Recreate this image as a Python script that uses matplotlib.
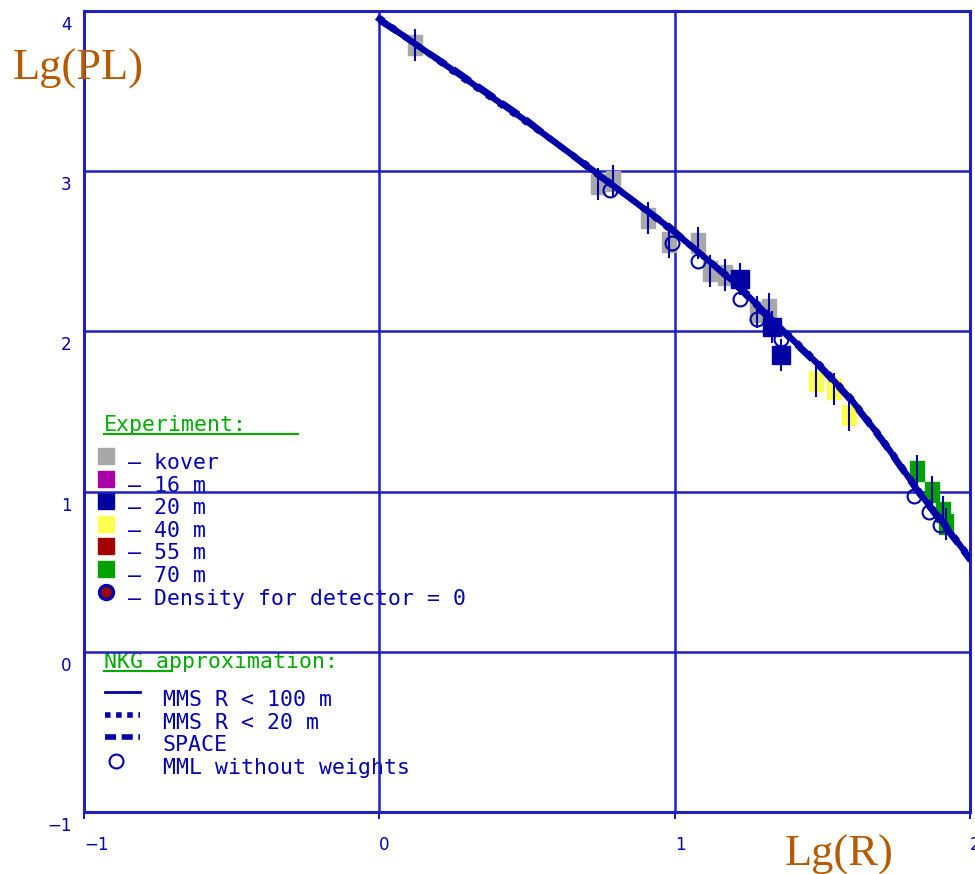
import numpy as np
import matplotlib.pyplot as plt
from matplotlib.lines import Line2D
from matplotlib.transforms import ScaledTranslation

# NKG fits, Lg(PL) vs Lg(R)
mms100_x = [0.0, 0.25, 0.5, 0.72, 0.98, 1.2, 1.37, 1.5, 1.6, 1.7, 1.83, 1.96, 2.0]
mms100_y = [3.95, 3.63, 3.31, 3.01, 2.65, 2.31, 2.0, 1.77, 1.57, 1.33, 0.99, 0.68, 0.58]
mms20_y = [3.96, 3.62, 3.30, 3.02, 2.64, 2.32, 2.01, 1.78, 1.58, 1.34, 1.00, 0.69, 0.59]
space_y = [3.94, 3.64, 3.32, 3.00, 2.66, 2.30, 1.99, 1.76, 1.56, 1.32, 0.98, 0.67, 0.57]

# experiment, grouped by detector
kover_x = [0.12, 0.74, 0.79, 0.91, 0.98, 1.08, 1.12, 1.17, 1.28, 1.32]
kover_y = [3.79, 2.92, 2.94, 2.71, 2.56, 2.55, 2.38, 2.35, 2.12, 2.14]
m20_x = [1.22, 1.33, 1.36]
m20_y = [2.33, 2.03, 1.85]
m40_x = [1.48, 1.54, 1.59]
m40_y = [1.69, 1.64, 1.48]
m70_x = [1.82, 1.87, 1.91, 1.92]
m70_y = [1.13, 1.00, 0.87, 0.80]
exp_err = 0.1

# MML without weights
mml_x = [0.78, 0.99, 1.08, 1.22, 1.28, 1.36, 1.81, 1.86, 1.90]
mml_y = [2.88, 2.55, 2.44, 2.20, 2.08, 1.95, 0.97, 0.87, 0.79]

x_ticks = [-1, 0, 1, 2]
y_ticks = [-1, 0, 1, 2, 3, 4]

NAVY = '#0000a8'
GRID = '#2020c0'
TXT = '#0000b0'
ORANGE = '#b45a00'
GREEN = '#00aa00'
colors = {'kover': '#a8a8a8', '16 m': '#aa00aa', '20 m': '#0000a0',
          '40 m': '#ffff50', '55 m': '#a00000', '70 m': '#00a000'}

W, H = 975, 874
fig = plt.figure(figsize=(W / 100, H / 100), dpi=100)
ax = fig.add_axes([84 / W, 62 / H, 886 / W, 801 / H])
ax.set_xlim(-1, 2)
ax.set_ylim(-1, 4)


def fpos(px, py):
    return px / W, 1 - py / H


# tall rectangle marker for the experimental points
rect = [(-0.35, -0.5), (0.35, -0.5), (0.35, 0.5), (-0.35, 0.5), (-0.35, -0.5)]
for xs, ys, key in [(kover_x, kover_y, 'kover'), (m20_x, m20_y, '20 m'),
                    (m40_x, m40_y, '40 m'), (m70_x, m70_y, '70 m')]:
    if key == '20 m':
        ax.plot(xs, ys, ls='none', marker='s', ms=13, color=colors[key],
                zorder=3)
    else:
        ax.plot(xs, ys, ls='none', marker=rect, ms=15, color=colors[key],
                mec=colors[key], zorder=3)
    ax.errorbar(xs, ys, yerr=exp_err, fmt='none', ecolor=NAVY, elinewidth=1.5,
                capsize=0, zorder=4)

ax.plot(mml_x, mml_y, ls='none', marker='o', ms=10, mfc='none', mec=NAVY,
        mew=1.5, zorder=4)

ax.plot(mms100_x, mms100_y, '-', color=NAVY, lw=4.5, zorder=5)
ax.plot(mms100_x, mms20_y, ':', color=NAVY, lw=4, zorder=5)
ax.plot(mms100_x, space_y, '--', color=NAVY, lw=4, zorder=5)

# grid and frame
ax.set_axisbelow(False)
ax.grid(True, color=GRID, lw=1.8)
for sp in ax.spines.values():
    sp.set_color(GRID)
    sp.set_linewidth(2.2)

ax.set_xticks(x_ticks)
ax.set_yticks(y_ticks)
ax.set_xticklabels([str(v).replace('-', '\u2212') for v in x_ticks])
ax.set_yticklabels([str(v).replace('-', '\u2212') for v in y_ticks])
ax.tick_params(axis='x', colors=GRID, length=5, width=1.5, pad=12,
               labelsize=12, labelcolor=TXT)
ax.tick_params(axis='y', length=0, pad=9, labelsize=12, labelcolor=TXT)
for lbl in ax.get_xticklabels():
    lbl.set_ha('left')
for lbl in ax.get_yticklabels():
    lbl.set_va('top')
    lbl.set_transform(lbl.get_transform()
                      + ScaledTranslation(0, -5 / 100, fig.dpi_scale_trans))

fig.text(*fpos(13, 80), 'Lg(PL)', family='Liberation Serif', size=32,
         color=ORANGE, va='baseline')
fig.text(*fpos(785, 866), 'Lg(R)', family='Liberation Serif', size=32,
         color=ORANGE, va='baseline')

# legend block drawn inside the axes, under the grid
mono = dict(family='DejaVu Sans Mono', size=15.5, color=TXT, va='center',
            transform=fig.transFigure, zorder=1, clip_on=False)


def legend_line(px0, px1, py, **kw):
    x0, y = fpos(px0, py)
    x1, _ = fpos(px1, py)
    ax.add_line(Line2D([x0, x1], [y, y], transform=fig.transFigure,
                       zorder=1, clip_on=False, **kw))


ax.text(*fpos(104, 425), 'Experiment:', **{**mono, 'color': GREEN})
legend_line(104, 298, 434, color=GREEN, lw=1.5)

rows = ['kover', '16 m', '20 m', '40 m', '55 m', '70 m']
for i, key in enumerate(rows):
    ty = 463 + i * 22.6
    ax.plot(*[[v] for v in fpos(106, ty - 7)], marker='s', ms=11,
            color=colors[key], transform=fig.transFigure, zorder=1,
            clip_on=False)
    ax.text(*fpos(128, ty), '\u2013 ' + key, **mono)
ax.plot(*[[v] for v in fpos(106, 592)], marker='o', ms=10, mfc='#a00000',
        mec=NAVY, mew=2.5, transform=fig.transFigure, zorder=1, clip_on=False)
ax.text(*fpos(128, 599), '\u2013 Density for detector = 0', **mono)

ax.text(*fpos(104, 662), 'NKG approximation:', **{**mono, 'color': GREEN})
legend_line(104, 170, 671, color=GREEN, lw=1.5)
legend_line(105, 140, 692, color=NAVY, lw=2)
legend_line(105, 140, 715, color=NAVY, lw=4, ls=(0, (1, 1)))
legend_line(105, 140, 737, color=NAVY, lw=4, ls=(0, (2, 1)))
ax.plot(*[[v] for v in fpos(116, 761)], marker='o', ms=10, mfc='none',
        mec=NAVY, mew=1.5, transform=fig.transFigure, zorder=1, clip_on=False)
nkg_labels = ['MMS R < 100 m', 'MMS R < 20 m', 'SPACE', 'MML without weights']
for i, lab in enumerate(nkg_labels):
    ax.text(*fpos(163, 700 + i * 22.7), lab, **mono)

plt.savefig('out.png', dpi=100)
